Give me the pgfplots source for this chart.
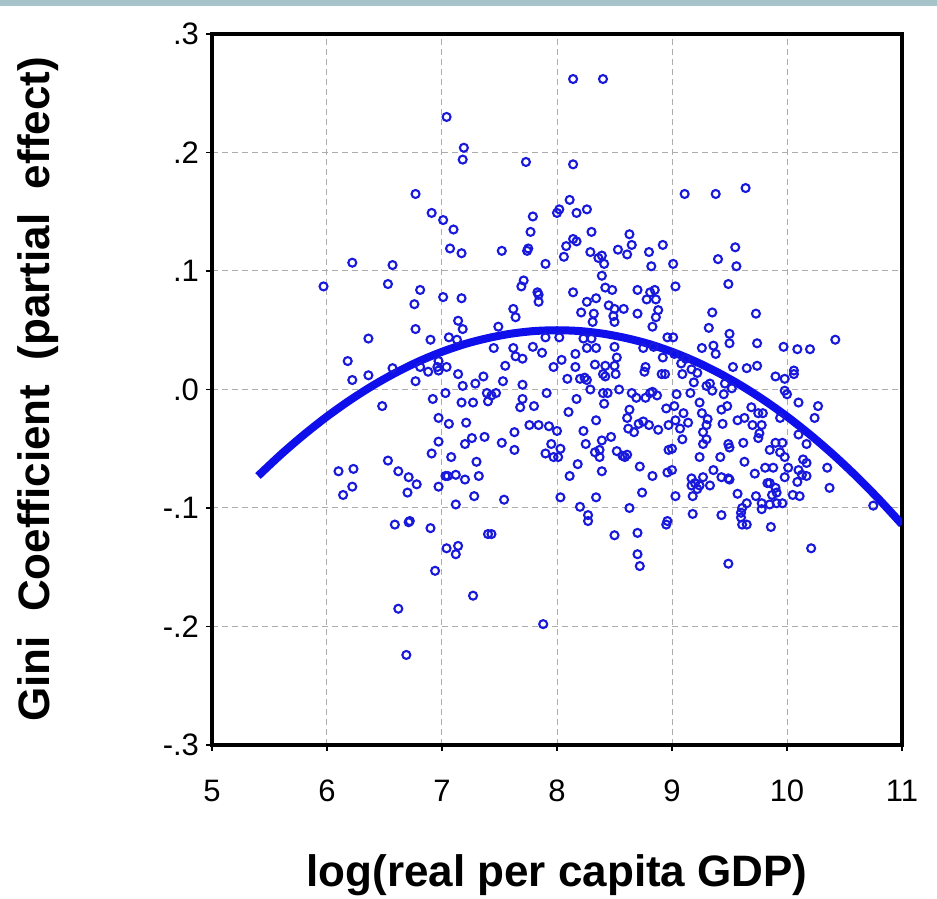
\documentclass[border=0pt]{standalone}
\usepackage{pgfplots}
\pgfplotsset{compat=1.18}
\usepackage{pgfplotstable}
\usepackage{fontspec}
\setmainfont{Liberation Sans}
\definecolor{dotblue}{RGB}{25,25,220}
\definecolor{lineblue}{RGB}{15,15,235}
\definecolor{topband}{RGB}{165,195,200}
\pgfplotstableread{
x y
8.14 0.262
8.40 0.262
7.04 0.230
7.19 0.204
7.18 0.194
7.73 0.192
8.14 0.190
6.77 0.165
9.11 0.165
9.38 0.165
9.64 0.170
8.11 0.160
6.91 0.149
7.01 0.143
8.02 0.152
8.00 0.149
8.17 0.149
8.26 0.152
7.79 0.146
7.10 0.135
7.07 0.119
7.17 0.115
6.22 0.107
6.57 0.105
5.97 0.087
6.53 0.089
6.81 0.084
6.76 0.072
7.01 0.078
7.17 0.077
7.14 0.058
7.18 0.051
6.77 0.051
6.36 0.043
6.90 0.042
7.06 0.044
7.13 0.042
6.18 0.024
6.57 0.018
6.81 0.019
6.96 0.019
7.04 0.019
6.97 0.024
7.77 0.133
7.52 0.117
7.74 0.117
7.75 0.119
8.14 0.127
8.17 0.125
8.08 0.121
8.30 0.133
8.63 0.131
8.65 0.122
8.92 0.122
8.06 0.112
8.29 0.116
8.39 0.113
8.36 0.111
8.41 0.106
8.53 0.118
8.61 0.114
8.80 0.116
7.90 0.106
8.82 0.104
8.39 0.096
7.71 0.092
7.69 0.087
7.83 0.082
7.84 0.080
7.84 0.074
8.14 0.082
8.42 0.086
8.48 0.084
8.70 0.084
8.81 0.082
8.85 0.084
8.78 0.076
8.86 0.076
8.26 0.074
8.34 0.077
7.62 0.068
7.64 0.061
8.21 0.065
8.32 0.064
8.45 0.071
8.50 0.068
8.49 0.062
8.50 0.057
8.58 0.068
8.70 0.064
8.88 0.067
8.86 0.061
8.83 0.053
8.31 0.057
7.49 0.053
7.45 0.035
7.62 0.035
7.64 0.028
7.70 0.026
7.79 0.036
7.87 0.031
7.90 0.044
8.02 0.044
7.97 0.019
8.04 0.025
7.55 0.020
8.16 0.030
8.16 0.019
8.23 0.043
8.30 0.043
8.26 0.035
8.34 0.035
8.33 0.021
8.42 0.020
8.50 0.036
8.50 0.020
8.52 0.027
8.75 0.035
8.77 0.019
8.92 0.027
8.84 0.036
8.96 0.044
9.55 0.120
9.40 0.110
9.56 0.104
9.01 0.106
9.03 0.087
9.49 0.089
9.35 0.065
9.73 0.064
9.32 0.052
9.50 0.047
9.50 0.039
9.74 0.039
9.26 0.035
9.36 0.037
9.38 0.030
9.97 0.036
10.09 0.034
10.20 0.034
10.42 0.042
9.53 0.019
9.65 0.018
9.74 0.020
9.01 0.044
10.06 0.016
9.02 0.030
9.08 0.022
9.12 0.026
9.17 0.017
9.22 0.014
6.22 0.008
6.36 0.012
6.77 0.007
6.48 -0.014
6.88 0.015
6.97 0.016
7.14 0.013
7.36 0.011
7.18 0.003
7.29 0.005
7.03 -0.003
6.92 -0.008
7.17 -0.011
7.27 -0.011
7.39 -0.003
7.40 -0.010
6.97 -0.024
7.06 -0.029
7.21 -0.028
6.97 -0.044
7.20 -0.046
7.26 -0.041
7.37 -0.040
6.91 -0.054
7.08 -0.057
7.30 -0.061
6.53 -0.060
6.10 -0.069
6.23 -0.067
6.62 -0.069
6.71 -0.074
6.78 -0.080
6.97 -0.082
7.03 -0.073
7.05 -0.073
7.12 -0.072
7.20 -0.076
7.32 -0.073
6.22 -0.082
6.14 -0.089
6.70 -0.087
7.28 -0.090
7.12 -0.097
6.72 -0.111
6.59 -0.114
6.71 -0.112
6.90 -0.117
7.40 -0.122
7.04 -0.134
7.14 -0.132
7.12 -0.139
6.94 -0.153
7.27 -0.174
6.62 -0.185
6.69 -0.224
7.43 -0.122
7.88 -0.198
8.50 -0.123
8.70 -0.121
8.70 -0.139
8.72 -0.149
8.95 -0.114
8.27 -0.111
9.61 -0.114
9.65 -0.114
9.86 -0.116
9.49 -0.147
10.21 -0.134
7.53 0.007
7.70 0.004
7.47 -0.003
7.43 -0.005
7.91 -0.003
7.70 -0.008
7.68 -0.015
7.80 -0.014
8.10 -0.019
8.17 -0.008
8.09 0.009
8.20 0.009
8.24 0.010
8.26 0.008
8.29 0.000
8.40 0.013
8.42 0.011
8.51 0.013
8.40 -0.003
8.44 -0.003
8.54 0.000
8.65 -0.003
8.69 -0.007
8.76 0.015
8.77 -0.007
8.81 -0.003
8.83 -0.002
8.87 -0.005
8.91 0.013
8.94 0.013
8.95 -0.016
8.41 -0.012
8.63 -0.017
8.61 -0.024
8.71 -0.029
8.75 -0.027
8.80 -0.030
8.97 -0.030
8.34 -0.026
7.76 -0.030
7.84 -0.030
7.93 -0.031
8.00 -0.035
7.63 -0.036
7.52 -0.045
8.23 -0.035
8.62 -0.033
8.67 -0.036
8.88 -0.034
7.95 -0.046
8.03 -0.050
7.90 -0.054
7.97 -0.057
8.01 -0.057
7.63 -0.051
8.25 -0.046
8.39 -0.043
8.47 -0.040
8.33 -0.053
8.37 -0.051
8.37 -0.057
8.52 -0.052
8.57 -0.056
8.59 -0.057
8.61 -0.055
8.97 -0.051
8.18 -0.063
8.11 -0.073
8.39 -0.069
8.72 -0.065
8.83 -0.073
8.96 -0.070
7.54 -0.093
8.03 -0.091
8.34 -0.091
8.74 -0.087
8.20 -0.099
8.27 -0.106
8.63 -0.100
8.96 -0.111
9.09 0.013
9.19 0.006
9.30 0.003
9.33 0.005
9.46 0.005
9.52 0.001
9.90 0.011
9.98 0.009
10.06 0.013
9.04 -0.004
9.16 -0.003
9.35 -0.001
9.45 -0.004
9.98 -0.001
10.00 -0.004
9.24 -0.011
9.02 -0.014
10.10 -0.011
10.27 -0.014
10.24 -0.024
9.10 -0.020
9.26 -0.020
9.43 -0.017
9.48 -0.014
9.69 -0.015
9.75 -0.020
9.79 -0.020
9.94 -0.024
9.03 -0.026
9.14 -0.028
9.31 -0.025
9.57 -0.026
9.63 -0.024
9.30 -0.030
9.27 -0.036
9.07 -0.033
9.44 -0.029
9.70 -0.030
9.78 -0.030
9.76 -0.037
9.75 -0.041
10.10 -0.038
10.17 -0.046
9.09 -0.042
9.00 -0.050
9.27 -0.046
9.30 -0.042
9.49 -0.046
9.50 -0.049
9.62 -0.045
9.90 -0.045
9.96 -0.045
9.85 -0.051
9.94 -0.053
9.98 -0.057
9.24 -0.057
9.42 -0.057
9.63 -0.061
10.14 -0.059
10.17 -0.062
10.01 -0.066
9.81 -0.066
9.88 -0.066
10.35 -0.066
9.36 -0.068
9.72 -0.071
10.10 -0.068
10.13 -0.072
10.17 -0.073
9.00 -0.068
9.17 -0.075
9.27 -0.074
9.20 -0.079
9.24 -0.081
9.17 -0.081
9.43 -0.074
9.49 -0.075
9.50 -0.076
9.33 -0.081
9.83 -0.079
9.85 -0.079
9.98 -0.074
10.09 -0.078
9.90 -0.083
9.91 -0.087
9.87 -0.089
10.37 -0.083
9.22 -0.084
9.57 -0.088
9.73 -0.090
10.05 -0.089
10.11 -0.090
9.03 -0.090
9.18 -0.090
9.78 -0.096
9.85 -0.097
9.91 -0.096
9.96 -0.096
9.65 -0.096
9.61 -0.100
9.60 -0.104
10.75 -0.098
9.43 -0.106
9.18 -0.105
9.60 -0.108
9.78 -0.101
}\scatterdata
\pgfplotstableread{
x y
5.4 -0.0730
5.6 -0.0548
5.8 -0.0381
6.0 -0.0228
6.2 -0.0090
6.4 0.0034
6.6 0.0143
6.8 0.0238
7.0 0.0318
7.2 0.0384
7.4 0.0434
7.6 0.0471
7.8 0.0493
8.0 0.0500
8.2 0.0493
8.4 0.0471
8.6 0.0434
8.8 0.0384
9.0 0.0318
9.2 0.0238
9.4 0.0143
9.6 0.0034
9.8 -0.0090
10.0 -0.0228
10.2 -0.0381
10.4 -0.0548
10.6 -0.0730
10.8 -0.0927
11.0 -0.1138
}\fitdata
\begin{document}
\begin{tikzpicture}
\useasboundingbox (-106pt,-77pt) rectangle (362.5pt,449.5pt-77pt);
\fill[topband] (-106pt,369.5pt) rectangle (362.5pt,372.5pt);
\begin{axis}[
  scale only axis,
  width=345pt, height=355.5pt,
  xmin=5, xmax=11, ymin=-0.3, ymax=0.3,
  xtick={5,6,7,8,9,10,11},
  xticklabels={5,6,7,8,9,10,11},
  ytick={-0.3,-0.2,-0.1,0,0.1,0.2,0.3},
  yticklabels={-.3,-.2,-.1,.0,.1,.2,.3},
  tick label style={font=\fontsize{15.5}{17}\selectfont},
  xticklabel style={yshift=-11pt},
  yticklabel style={xshift=0pt},
  tick align=outside, tick pos=left, major tick length=3pt,
  tick style={black, line width=0.8pt},
  grid=major,
  major grid style={gray!65, dash pattern=on 3pt off 2pt, line width=0.5pt},
  axis line style={black, line width=1.9pt},
  xlabel={log(real per capita GDP)},
  ylabel={Gini\ \ Coefficient\ \ (partial\ \ effect)},
  label style={font=\fontsize{22}{26}\selectfont\bfseries},
  xlabel style={at={(axis description cs:0.5,-0.183)}, anchor=center},
  ylabel style={at={(axis description cs:-0.252,0.5)}, anchor=center, rotate=0},
]
\addplot[only marks, mark=o, mark size=2pt, dotblue, mark options={line width=1.05pt}] table[x=x,y=y] {\scatterdata};
\addplot[lineblue, line width=4pt, no marks, smooth] table[x=x,y=y] {\fitdata};
\end{axis}
\end{tikzpicture}
\end{document}
